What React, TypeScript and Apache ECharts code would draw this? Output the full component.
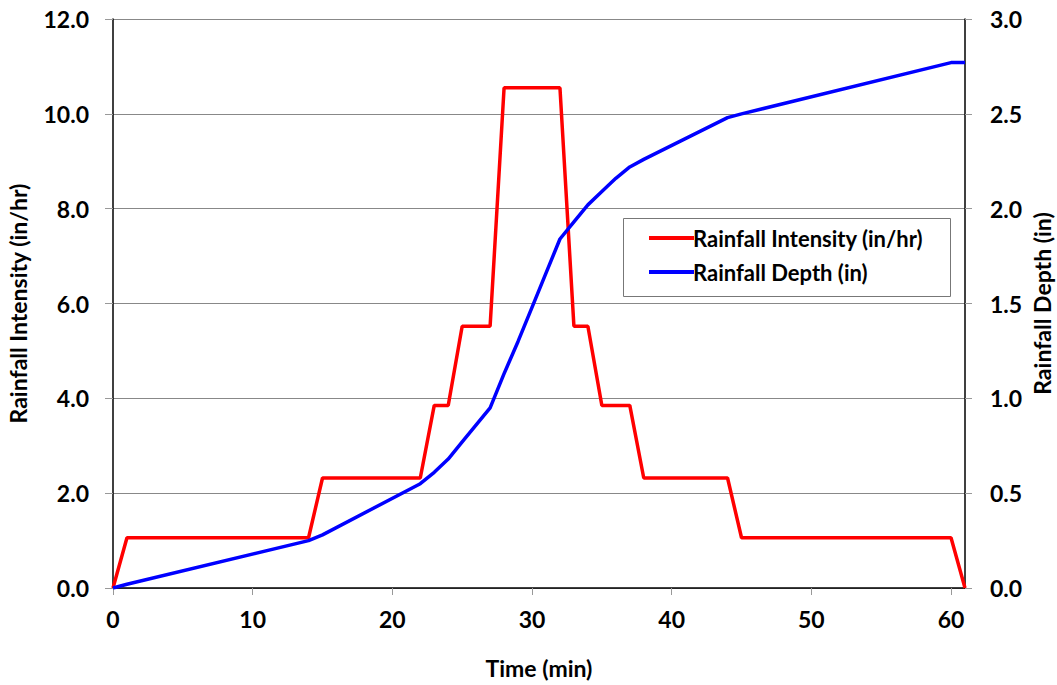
import React, { useEffect, useRef } from "react";
import * as echarts from "echarts";

const timeIntensity = [0, 1, 14, 15, 22, 23, 24, 25, 27, 28, 32, 33, 34, 35, 37, 38, 44, 45, 60, 61];
const intensityValues = [0, 1.06, 1.06, 2.32, 2.32, 3.85, 3.85, 5.52, 5.52, 10.55, 10.55, 5.52, 5.52, 3.85, 3.85, 2.32, 2.32, 1.06, 1.06, 0];

const timeDepth = [0, 1, 14, 15, 22, 23, 24, 25, 26, 27, 28, 29, 30, 31, 32, 33, 34, 35, 36, 37, 38, 44, 45, 60, 61];
const depthValues = [0, 0.02, 0.25, 0.28, 0.55, 0.61, 0.68, 0.77, 0.86, 0.95, 1.13, 1.30, 1.48, 1.66, 1.84, 1.93, 2.02, 2.09, 2.16, 2.22, 2.26, 2.48, 2.50, 2.77, 2.77];

const xTicks = [0, 10, 20, 30, 40, 50, 60];
const FONT = "Lato";

export default function App() {
  const ref = useRef<HTMLDivElement>(null);
  useEffect(() => {
    if (!ref.current) return;
    const chart = echarts.init(ref.current, null, { renderer: "svg" });
    const labelStyle = { fontFamily: FONT, fontWeight: "bold" as const, fontSize: 23, color: "#000" };
    chart.setOption({
      animation: false,
      backgroundColor: "#fff",
      grid: { left: 113, right: 92, top: 19, bottom: 97, containLabel: false, outerBoundsMode: "none" },
      xAxis: {
        type: "value",
        min: 0,
        max: 61,
        interval: 10,
        name: "Time (min)",
        nameLocation: "middle",
        nameGap: 68,
        nameMoveOverlap: false,
        nameTextStyle: labelStyle,
        axisLine: { onZero: false, lineStyle: { color: "#000", width: 1.5 } },
        axisTick: { show: true, length: 7, lineStyle: { color: "#999" } },
        axisLabel: {
          ...labelStyle,
          margin: 19,
          showMaxLabel: false,
          formatter: (v: number) => (xTicks.includes(v) ? String(v) : ""),
        },
        splitLine: { show: false },
      },
      yAxis: [
        {
          type: "value",
          min: 0,
          max: 12,
          interval: 2,
          name: "Rainfall Intensity (in/hr)",
          nameLocation: "middle",
          nameGap: 84,
          nameMoveOverlap: false,
          nameRotate: 90,
          nameTextStyle: labelStyle,
          axisLine: { show: true, lineStyle: { color: "#000", width: 1.5 } },
          axisTick: { show: true, length: 8, lineStyle: { color: "#999" } },
          axisLabel: { ...labelStyle, margin: 24, formatter: (v: number) => v.toFixed(1) },
          splitLine: { show: true, lineStyle: { color: "#888", width: 1 } },
        },
        {
          type: "value",
          min: 0,
          max: 3,
          interval: 0.5,
          position: "right",
          name: "Rainfall Depth (in)",
          nameLocation: "middle",
          nameGap: 65,
          nameMoveOverlap: false,
          nameRotate: 90,
          nameTextStyle: labelStyle,
          axisLine: { show: true, lineStyle: { color: "#000", width: 1.5 } },
          axisTick: { show: true, length: 7, lineStyle: { color: "#999" } },
          axisLabel: { ...labelStyle, margin: 25, formatter: (v: number) => v.toFixed(1) },
          splitLine: { show: false },
        },
      ],
      legend: {
        orient: "vertical",
        left: 644,
        top: 222,
        itemWidth: 45,
        itemHeight: 4,
        itemGap: 12,
        icon: "rect",
        textStyle: { fontFamily: FONT, fontWeight: "bold", fontSize: 22, color: "#000", padding: [0, 0, 0, -6] },
        data: ["Rainfall Intensity (in/hr)", "Rainfall Depth (in)"],
        z: 10,
      },
      graphic: [
        {
          type: "rect",
          shape: { x: 623.5, y: 218.5, width: 327, height: 78 },
          style: { fill: "#fff", stroke: "#777", lineWidth: 1 },
          z: 4,
        },
      ],
      series: [
        {
          name: "Rainfall Intensity (in/hr)",
          type: "line",
          yAxisIndex: 0,
          symbol: "none",
          lineStyle: { color: "#ff0000", width: 3.5 },
          itemStyle: { color: "#ff0000" },
          data: timeIntensity.map((t, i) => [t, intensityValues[i]]),
          z: 3,
        },
        {
          name: "Rainfall Depth (in)",
          type: "line",
          yAxisIndex: 1,
          symbol: "none",
          lineStyle: { color: "#0000ff", width: 3.5 },
          itemStyle: { color: "#0000ff" },
          data: timeDepth.map((t, i) => [t, depthValues[i]]),
          z: 3,
        },
      ],
    });
    return () => chart.dispose();
  }, []);
  return <div ref={ref} style={{ width: 1057, height: 685, position: "absolute", left: 0, top: 0 }} />;
}
